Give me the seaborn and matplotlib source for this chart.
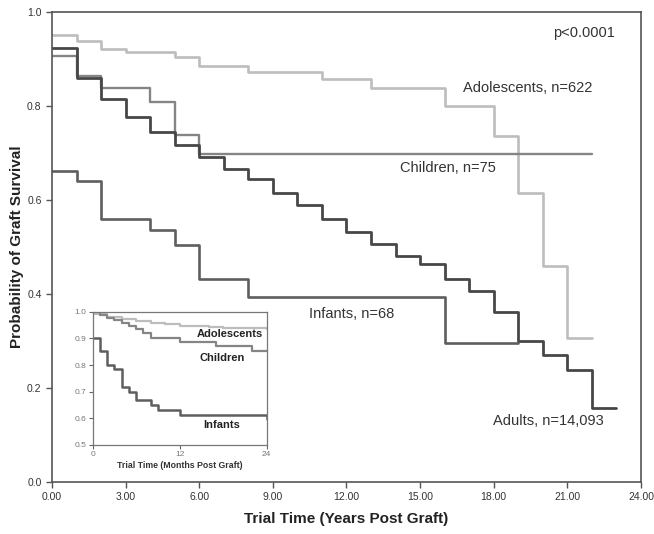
import numpy as np
import pandas as pd
import seaborn as sns
import matplotlib.pyplot as plt

# Main curves (years post graft, survival probability)
adult_t = [0, 1, 2, 3, 4, 5, 6, 7, 8, 9, 10, 11, 12, 13, 14, 15, 16, 17, 18, 19, 20, 21, 22, 23]
adult_s = [0.923, 0.860, 0.816, 0.777, 0.745, 0.717, 0.691, 0.665, 0.644, 0.614, 0.589, 0.560,
           0.531, 0.506, 0.481, 0.463, 0.433, 0.406, 0.361, 0.301, 0.270, 0.238, 0.158, 0.158]

adol_t = [0, 1, 2, 3, 5, 6, 8, 11, 13, 16, 18, 19, 20, 21, 22]
adol_s = [0.952, 0.939, 0.921, 0.914, 0.904, 0.886, 0.872, 0.857, 0.839, 0.800, 0.736, 0.616,
          0.460, 0.306, 0.306]

child_t = [0, 1, 2, 4, 5, 6, 22]
child_s = [0.907, 0.864, 0.838, 0.809, 0.738, 0.699, 0.699]

inf_t = [0, 1, 2, 4, 5, 6, 8, 16, 19]
inf_s = [0.662, 0.641, 0.559, 0.536, 0.504, 0.432, 0.394, 0.296, 0.296]

# Inset curves (months post graft)
in_adol_m = [0, 2, 4, 6, 8, 10, 12, 14, 16, 18, 20, 22, 24]
in_adol_s = [0.99, 0.980, 0.972, 0.965, 0.958, 0.952, 0.948, 0.945, 0.942, 0.940, 0.938, 0.937, 0.936]

in_child_m = [0, 1, 2, 3, 4, 5, 6, 7, 8, 12, 17, 22, 24]
in_child_s = [1.0, 0.987, 0.977, 0.967, 0.957, 0.945, 0.935, 0.920, 0.900, 0.888, 0.871, 0.852, 0.852]

in_inf_m = [0, 1, 2, 3, 4, 5, 6, 8, 9, 12, 24]
in_inf_s = [0.903, 0.854, 0.800, 0.785, 0.717, 0.700, 0.667, 0.651, 0.631, 0.613, 0.596]

x_ticks = [0, 3, 6, 9, 12, 15, 18, 21, 24]
y_ticks = [0.0, 0.2, 0.4, 0.6, 0.8, 1.0]

sns.set_style("ticks")
plt.rcParams['font.family'] = ['Liberation Sans', 'DejaVu Sans']

fig = plt.figure(figsize=(6.54, 5.34), dpi=100)
ax = fig.add_axes([0.0795, 0.0974, 0.9006, 0.880])

main = [
    (adol_t, adol_s, '#bdbdbd', 1.9),
    (child_t, child_s, '#858585', 1.7),
    (inf_t, inf_s, '#5e5e5e', 1.9),
    (adult_t, adult_s, '#474747', 2.0),
]
for t, s, c, lw in main:
    df = pd.DataFrame({'t': t, 's': s})
    sns.lineplot(data=df, x='t', y='s', ax=ax, color=c, linewidth=lw,
                 drawstyle='steps-post', estimator=None, sort=False)

ax.set_xlim(0, 24)
ax.set_ylim(0, 1.0)
ax.set_xticks(x_ticks)
ax.set_xticklabels([f'{v:.2f}' for v in x_ticks])
ax.set_yticks(y_ticks)
ax.set_yticklabels([f'{v:.1f}' for v in y_ticks])
ax.tick_params(labelsize=7.5, colors='#555555', labelcolor='#333333', length=4, width=1)
for sp in ax.spines.values():
    sp.set_visible(True)
    sp.set_color('#555555')
    sp.set_linewidth(1.2)
ax.set_xlabel('Trial Time (Years Post Graft)', fontsize=11, fontweight='bold',
              color='#222222', labelpad=7)
ax.set_ylabel('Probability of Graft Survival', fontsize=11, fontweight='bold',
              color='#222222', labelpad=2)

txt = dict(fontsize=10.5, color='#333333', va='center')
ax.text(22.93, 0.955, 'p<0.0001', ha='right', **txt)
ax.text(19.4, 0.839, 'Adolescents, n=622', ha='center', **txt)
ax.text(16.12, 0.669, 'Children, n=75', ha='center', **txt)
ax.text(12.19, 0.357, 'Infants, n=68', ha='center', **txt)
ax.text(20.22, 0.130, 'Adults, n=14,093', ha='center', **txt)

# Inset: first 24 months
axi = fig.add_axes([0.1417, 0.1667, 0.266, 0.2496])
inset = [
    (in_adol_m, in_adol_s, '#bdbdbd', 1.6),
    (in_child_m, in_child_s, '#858585', 1.6),
    (in_inf_m, in_inf_s, '#5e5e5e', 1.8),
]
for t, s, c, lw in inset:
    df = pd.DataFrame({'t': t, 's': s})
    sns.lineplot(data=df, x='t', y='s', ax=axi, color=c, linewidth=lw,
                 drawstyle='steps-post', estimator=None, sort=False)

axi.set_xlim(0, 24)
axi.set_ylim(0.5, 1.0)
axi.set_xticks([0, 12, 24])
axi.set_yticks([0.5, 0.6, 0.7, 0.8, 0.9, 1.0])
axi.set_yticklabels(['0.5', '0.6', '0.7', '0.8', '0.9', '1.0'])
axi.tick_params(labelsize=6, colors='#666666', labelcolor='#777777', length=3, width=0.8, pad=1.5)
for sp in axi.spines.values():
    sp.set_visible(True)
    sp.set_color('#777777')
    sp.set_linewidth(0.9)
axi.set_xlabel('Trial Time (Months Post Graft)', fontsize=6.3, fontweight='bold',
               color='#333333', labelpad=2)
axi.set_ylabel('')

itxt = dict(fontsize=8, fontweight='bold', color='#222222', ha='center', va='center')
axi.text(18.9, 0.916, 'Adolescents', **itxt)
axi.text(17.8, 0.8275, 'Children', **itxt)
axi.text(17.8, 0.575, 'Infants', **itxt)

fig.savefig('out.png', dpi=100)
